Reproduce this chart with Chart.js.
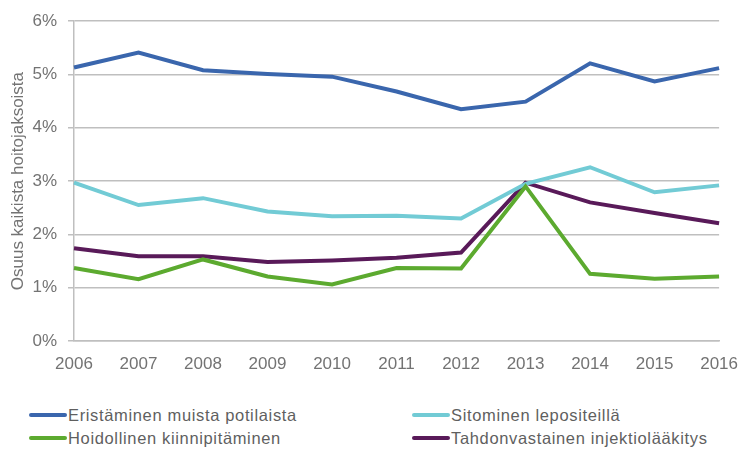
<!DOCTYPE html>
<html>
<head>
<meta charset="utf-8">
<script src="https://cdn.jsdelivr.net/npm/chart.js@4/dist/chart.umd.min.js"></script>
<style>
  body { margin: 0; background: #fff; font-family: "Liberation Sans", Arial, sans-serif; overflow: hidden; }
  #wrap { position: relative; width: 740px; height: 381px; }
  #legend { position: relative; width: 740px; height: 68px; }
  .item { position: absolute; font-size: 16.5px; line-height: 19px; letter-spacing: 0.65px; color: #5f5f5f; display: flex; align-items: center; white-space: nowrap; }
  .item span.sw { display: inline-block; width: 38px; height: 4px; border-radius: 2px; margin-right: 1px; }
</style>
</head>
<body>
<div id="wrap"><canvas id="lineChart"></canvas></div>
<div id="legend"></div>
<script>
const years = ['2006', '2007', '2008', '2009', '2010', '2011', '2012', '2013', '2014', '2015', '2016'];
const eristaminen = [5.13, 5.41, 5.08, 5.01, 4.96, 4.68, 4.35, 4.49, 5.21, 4.87, 5.12];
const sitominen = [2.97, 2.55, 2.68, 2.43, 2.34, 2.35, 2.30, 2.95, 3.26, 2.79, 2.92];
const hoidollinen = [1.37, 1.16, 1.53, 1.21, 1.06, 1.37, 1.36, 2.90, 1.26, 1.17, 1.21];
const injektio = [1.74, 1.59, 1.59, 1.48, 1.51, 1.56, 1.66, 2.97, 2.60, 2.40, 2.21];

const series = [
  { label: 'Eristäminen muista potilaista', data: eristaminen, color: '#3A66AD' },
  { label: 'Hoidollinen kiinnipitäminen', data: hoidollinen, color: '#5CAA2F' },
  { label: 'Sitominen lepositeillä', data: sitominen, color: '#72CBD5' },
  { label: 'Tahdonvastainen injektiolääkitys', data: injektio, color: '#591A59' }
];

const tickColor = '#737373';
const tickFont = { family: 'Liberation Sans', size: 17 };
const ctx = document.getElementById('lineChart').getContext('2d');
new Chart(ctx, {
  type: 'line',
  data: {
    labels: years,
    datasets: series.map(s => ({
      label: s.label,
      data: s.data,
      borderColor: s.color,
      backgroundColor: s.color,
      borderWidth: 4,
      pointRadius: 0,
      tension: 0
    }))
  },
  options: {
    responsive: true,
    maintainAspectRatio: false,
    animation: false,
    layout: { padding: { top: 20, right: 0, left: 0, bottom: 0 } },
    plugins: {
      legend: { display: false },
      tooltip: { enabled: false }
    },
    scales: {
      x: {
        grid: { display: false, drawTicks: true, tickLength: 11 },
        border: { color: '#bfbfbf', width: 1.5 },
        ticks: { color: tickColor, font: tickFont, padding: 2, maxRotation: 0 },
        afterFit: s => { s.height = 40; }
      },
      y: {
        min: 0,
        max: 6,
        grid: { color: '#bfbfbf', lineWidth: 1.5, tickLength: 6 },
        border: { color: '#bfbfbf', width: 1.5 },
        ticks: {
          stepSize: 1,
          color: tickColor,
          font: tickFont,
          padding: 11,
          callback: v => v + '%'
        },
        title: {
          display: true,
          text: 'Osuus kaikista hoitojaksoista',
          color: tickColor,
          font: tickFont,
          padding: { top: 8, bottom: 0 }
        },
        afterFit: s => { s.width = 74; }
      }
    }
  }
});

// legend in two columns, like the original
const legend = document.getElementById('legend');
const pos = [[29, 34], [29, 57], [412, 34], [412, 57]];
series.forEach((s, i) => {
  const el = document.createElement('div');
  el.className = 'item';
  el.style.left = pos[i][0] + 'px';
  el.style.top = (pos[i][1] - 9.5) + 'px';
  el.innerHTML = '<span class="sw" style="background:' + s.color + '"></span>' + s.label;
  legend.appendChild(el);
});
</script>
</body>
</html>
